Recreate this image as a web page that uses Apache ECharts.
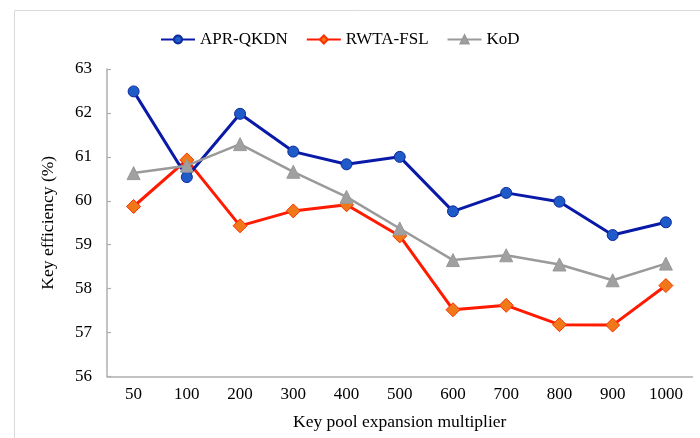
<!DOCTYPE html>
<html>
<head>
<meta charset="utf-8">
<script src="https://cdn.jsdelivr.net/npm/echarts@6/dist/echarts.min.js"></script>
<style>html,body{margin:0;padding:0;background:#fff}#c{width:700px;height:438px}</style>
</head>
<body>
<div id="c"></div>
<script>
const categories = ['50','100','200','300','400','500','600','700','800','900','1000'];
const apr = [62.49, 60.54, 61.98, 61.12, 60.83, 61.0, 59.76, 60.18, 59.98, 59.22, 59.51];
const rwta = [59.87, 60.93, 59.43, 59.77, 59.91, 59.2, 57.52, 57.62, 57.18, 57.17, 58.07];
const kod = [60.63, 60.8, 61.29, 60.66, 60.09, 59.37, 58.65, 58.76, 58.55, 58.19, 58.57];
const seriesNames = ['APR-QKDN', 'RWTA-FSL', 'KoD'];
const yTicks = {min: 56, max: 63, interval: 1};

const font = '"Liberation Serif", "Times New Roman", serif';
const chart = echarts.init(document.getElementById('c'), null, {renderer: 'canvas'});
chart.setOption({
  animation: false,
  backgroundColor: '#fff',
  graphic: [{
    type: 'rect', silent: true,
    shape: {x: 14.5, y: 10.5, width: 720, height: 450},
    style: {fill: 'none', stroke: '#DADADA', lineWidth: 1}
  }],
  legend: {
    left: 155, top: 26, itemWidth: 34, itemHeight: 10, itemGap: 18,
    textStyle: {fontFamily: font, fontSize: 17, color: '#000'},
    data: seriesNames
  },
  grid: {left: 107, right: 7.5, top: 69, bottom: 61.5, containLabel: false},
  xAxis: {
    type: 'category', data: categories, boundaryGap: true,
    name: 'Key pool expansion multiplier', nameLocation: 'middle', nameGap: 37,
    nameTextStyle: {fontFamily: font, fontSize: 17.5, color: '#000'},
    axisLine: {lineStyle: {color: '#AFAFAF', width: 1.5}},
    axisTick: {show: false},
    axisLabel: {fontFamily: font, fontSize: 17, color: '#000', margin: 10, interval: 0}
  },
  yAxis: {
    type: 'value', min: yTicks.min, max: yTicks.max, interval: yTicks.interval,
    name: 'Key efficiency (%)', nameLocation: 'middle', nameGap: 50,
    nameTextStyle: {fontFamily: font, fontSize: 17.5, color: '#000'},
    axisLine: {show: true, lineStyle: {color: '#AFAFAF', width: 1.5}},
    axisTick: {show: true, inside: true, length: 4, lineStyle: {color: '#AFAFAF', width: 1.2}},
    splitLine: {show: false},
    axisLabel: {fontFamily: font, fontSize: 17, color: '#000', margin: 15}
  },
  series: [
    {
      name: seriesNames[0], type: 'line', data: apr,
      symbol: 'circle', symbolSize: 11,
      lineStyle: {color: '#0A1AA8', width: 3},
      itemStyle: {color: '#1E5AC8', borderColor: '#0C2A9E', borderWidth: 1},
      z: 3
    },
    {
      name: seriesNames[1], type: 'line', data: rwta,
      symbol: 'diamond', symbolSize: 14,
      lineStyle: {color: '#FF1A00', width: 3},
      itemStyle: {color: '#F07818', borderColor: '#FF3000', borderWidth: 1},
      z: 2
    },
    {
      name: seriesNames[2], type: 'line', data: kod,
      symbol: 'triangle', symbolSize: 13,
      lineStyle: {color: '#9A9A9A', width: 2.5},
      itemStyle: {color: '#A0A0A0', borderColor: '#999999', borderWidth: 1},
      z: 4
    }
  ]
});
</script>
</body>
</html>
